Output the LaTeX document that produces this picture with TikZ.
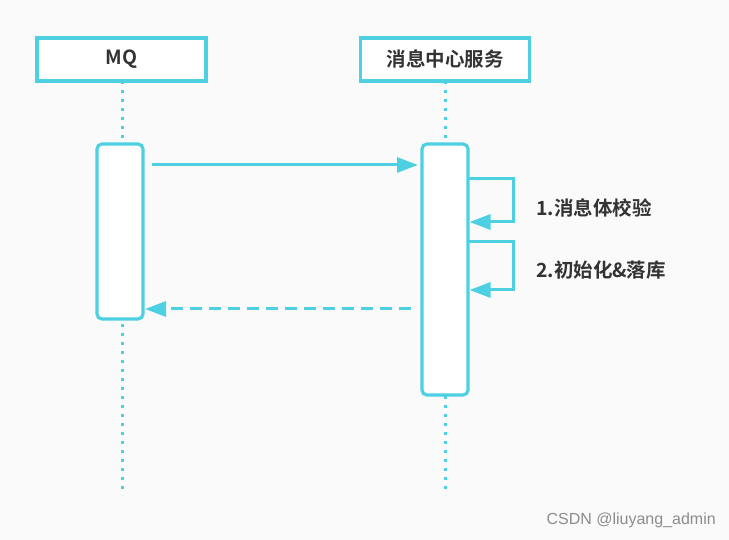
\documentclass[tikz,border=0pt]{standalone}
\usepackage{fontspec}
\setmainfont{Liberation Sans}
\newfontfamily\cjk{Noto Sans CJK SC}[BoldFont={Noto Sans CJK SC Bold}]
\usetikzlibrary{arrows.meta}
\definecolor{cy}{HTML}{4DD0E1}
\definecolor{bg}{HTML}{FAFAFA}
\definecolor{tx}{HTML}{333333}
\tikzset{
  head/.style={draw=cy,line width=3.2pt,fill=white,minimum width=169pt,minimum height=43pt,inner sep=0pt,font=\cjk\bfseries\fontsize{19.5pt}{22pt}\selectfont,text=tx},
  act/.style={draw=cy,line width=3.2pt,fill=white,rounded corners=5pt,minimum width=46pt,inner sep=0pt},
  life/.style={draw=cy,line width=3pt,dash pattern=on 3pt off 6pt},
  msg/.style={draw=cy,line width=3pt,-{Triangle[length=21pt,width=15pt]}},
  lbl/.style={font=\cjk\bfseries\fontsize{19.5pt}{22pt}\selectfont,text=tx,anchor=west,inner sep=0pt}
}
\begin{document}
\begin{tikzpicture}[x=1pt,y=-1pt]
\fill[bg] (0,0) rectangle (729,540);
\useasboundingbox (0,0) rectangle (729,540);
\coordinate (l1t) at (122,81);
\coordinate (l1b) at (122,495);
\coordinate (l2t) at (445,81);
\coordinate (l2b) at (445,495);
\draw[life] (l1t) -- (l1b);
\draw[life] (l2t) -- (l2b);
\node[head] (mq) at (121.5,59.5) {MQ};
\node[head] (svc) at (445,59.5) {消息中心服务};
\node[act,minimum height=175pt] (a1) at (120,231.5) {};
\node[act,minimum height=251pt] (a2) at (445,269.5) {};
\coordinate (s1) at (152,165);
\coordinate (e1) at (418,165);
\draw[msg] (s1) -- (e1);
\coordinate (r1a) at (468,179);
\coordinate (r1b) at (469.5,222);
\draw[msg,line join=miter] (r1a) -- (513,179) -- (513,222) -- (r1b);
\coordinate (r2a) at (468,242);
\coordinate (r2b) at (469.5,290);
\draw[msg,line join=miter] (r2a) -- (513,242) -- (513,290) -- (r2b);
\node[lbl] (t1) at (536,208) {1.消息体校验};
\node[lbl] (t2) at (536,270) {2.初始化\&落库};
\coordinate (s2) at (411,309);
\coordinate (e2) at (145,309);
\draw[msg,dash pattern=on 12pt off 7pt] (s2) -- (e2);
\node[font=\fontsize{16pt}{18pt}\selectfont,text=black!45,anchor=east,inner sep=0pt] (wm) at (716,520) {CSDN @liuyang\_admin};
\end{tikzpicture}
\end{document}
